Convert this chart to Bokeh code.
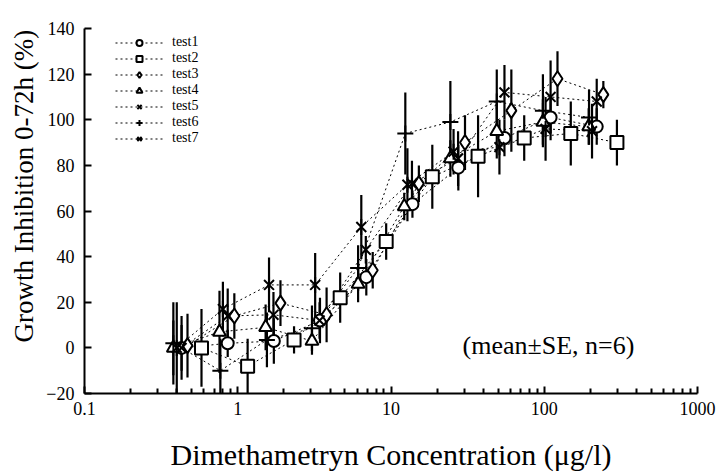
import numpy as np
from bokeh.plotting import figure
from bokeh.models import (Range1d, FixedTicker, CustomJSTickFormatter, Legend,
                          LegendItem, Label, Title, ColumnDataSource)
from bokeh.embed import file_html
from bokeh.resources import INLINE

# ---- data ----
series_names = ["test1", "test2", "test3", "test4", "test5", "test6", "test7"]

t1_x = [0.43, 0.86, 1.72, 3.44, 6.9, 13.8, 27.5, 55, 110, 220]
t1_y = [0, 2, 3, 12, 31, 63, 79, 92, 101, 97]
t1_se = [10, 6, 10, 10, 8, 6, 10, 8, 10, 8]

t2_x = [0.58, 1.16, 2.33, 4.66, 9.3, 18.6, 37, 74, 149, 298]
t2_y = [0, -8, 3.5, 22, 46.6, 75, 84, 92, 94, 90]
t2_se = [17, 12, 6, 11, 8, 14, 18, 10, 14, 10]

t3_x = [0.47, 0.95, 1.9, 3.8, 7.6, 15.2, 30.4, 61, 122, 243]
t3_y = [1, 14, 19.6, 14.5, 34, 72, 90, 104, 118, 111]
t3_se = [14, 10, 10, 12, 8, 8, 12, 18, 12, 6]

t4_x = [0.38, 0.76, 1.52, 3.05, 6.1, 12.2, 24.4, 49, 98, 195]
t4_y = [0, 7, 9, 3, 28, 62, 83, 95, 99, 97]
t4_se = [12, 18, 10, 6, 8, 6, 8, 12, 10, 8]

t5_x = [0.43, 0.86, 1.71, 3.42, 6.85, 13.7, 27.4, 55, 110, 220]
t5_y = [0, 14, 14.5, 12, 43, 72, 83, 112, 110, 108]
t5_se = [14, 12, 10, 8, 6, 10, 12, 12, 16, 10]

t6_x = [0.38, 0.77, 1.55, 3.05, 6.1, 12.4, 24.4, 49, 98, 196]
t6_y = [2, -10, 3.5, 8.6, 35, 94, 99, 108, 104, 101]
t6_se = [18, 14, 12, 10, 10, 18, 18, 14, 16, 12]

t7_x = [0.4, 0.8, 1.6, 3.2, 6.4, 12.8, 25.6, 51, 102, 205]
t7_y = [0, 17, 27.6, 27.6, 53, 71.5, 86, 88, 96, 95]
t7_se = [20, 12, 12, 14, 14, 16, 10, 12, 14, 12]

x_ticks = [0.1, 1, 10, 100, 1000]
y_ticks = [-20, 0, 20, 40, 60, 80, 100, 120, 140]

all_series = [(t1_x, t1_y, t1_se), (t2_x, t2_y, t2_se), (t3_x, t3_y, t3_se),
              (t4_x, t4_y, t4_se), (t5_x, t5_y, t5_se), (t6_x, t6_y, t6_se),
              (t7_x, t7_y, t7_se)]
markers = ["circle", "square", "diamond", "triangle", "x", "cross", "asterisk"]
msizes = [12, 13, 15, 13, 14, 16, 14]

SERIF = "Liberation Serif"

p = figure(width=719, height=475, x_axis_type="log",
           x_range=Range1d(0.1, 1000), y_range=Range1d(-20, 140),
           output_backend="svg", toolbar_location=None,
           min_border_left=84, min_border_right=22, min_border_top=28,
           min_border_bottom=82)
p.xgrid.visible = False
p.ygrid.visible = False
p.outline_line_color = None
p.background_fill_color = "white"
p.border_fill_color = "white"

sources = []
for xs, ys, se in all_series:
    xs_a = np.array(xs, dtype=float)
    ys_a = np.array(ys, dtype=float)
    se_a = np.array(se, dtype=float)
    sources.append(ColumnDataSource(dict(x=xs_a, y=ys_a, lo=ys_a - se_a, hi=ys_a + se_a)))

line_rs = []
for src in sources:
    line_rs.append(p.line("x", "y", source=src, line_color="black",
                          line_width=1, line_dash="2 3"))
for src in sources:
    p.segment(x0="x", y0="lo", x1="x", y1="hi", source=src,
              line_color="black", line_width=2.2)

marker_rs = []
for src, m, s in zip(sources, markers, msizes):
    if m == "asterisk":
        r1 = p.scatter("x", "y", source=src, marker="x", size=s,
                       line_color="black", line_width=2)
        r2 = p.scatter("x", "y", source=src, marker="dash", size=s + 2,
                       angle=np.pi / 2, line_color="black", line_width=2)
        marker_rs.append([r1, r2])
    else:
        r = p.scatter("x", "y", source=src, marker=m, size=s,
                      fill_color="white", line_color="black", line_width=2)
        marker_rs.append([r])

items = [LegendItem(label=n, renderers=[lr] + mr)
         for n, lr, mr in zip(series_names, line_rs, marker_rs)]
legend = Legend(items=items, location=(31, 247), glyph_width=48,
                glyph_height=15, label_height=15, spacing=0,
                label_standoff=9, padding=0, margin=0,
                border_line_color=None, background_fill_alpha=0,
                label_text_font=SERIF, label_text_font_size="14px",
                label_text_color="black")
p.add_layout(legend)

# axes
xa = p.xaxis[0]
xa.ticker = FixedTicker(ticks=x_ticks,
                        minor_ticks=[m * d for d in [0.1, 1, 10, 100] for m in range(2, 10)])
xa.formatter = CustomJSTickFormatter(code="return tick.toString()")
xa.axis_label = "Dimethametryn Concentration (\u03bcg/l)"
ya = p.yaxis[0]
ya.ticker = FixedTicker(ticks=y_ticks)

for ax in (xa, ya):
    ax.axis_line_width = 2
    ax.axis_line_color = "black"
    ax.major_tick_line_width = 2
    ax.minor_tick_line_width = 2
    ax.major_tick_out = 0
    ax.major_tick_in = 7
    ax.minor_tick_out = 0
    ax.minor_tick_in = 5
    ax.major_label_text_font = SERIF
    ax.major_label_text_font_size = "18px"
    ax.major_label_text_color = "black"
    ax.axis_label_text_font = SERIF
    ax.axis_label_text_font_style = "normal"
    ax.axis_label_text_color = "black"
ya.minor_tick_line_color = None
xa.axis_label_text_font_size = "30px"
xa.major_label_standoff = 8
xa.axis_label_standoff = 20
ya.major_label_standoff = 10

# y-axis title as a side title, shifted upwards as in the reference
ytitle = Title(text="Growth Inhibition 0-72h (%)", align="left", offset=51,
               standoff=10, text_font=SERIF, text_font_size="27px",
               text_font_style="normal", text_color="black")
p.add_layout(ytitle, "left")

note = Label(x=378, y=48, x_units="screen", y_units="screen",
             text="(mean\u00b1SE, n=6)", text_font=SERIF,
             text_font_size="26px", text_baseline="middle", text_color="black")
p.add_layout(note)

open("out.html", "w").write(file_html(p, INLINE))
